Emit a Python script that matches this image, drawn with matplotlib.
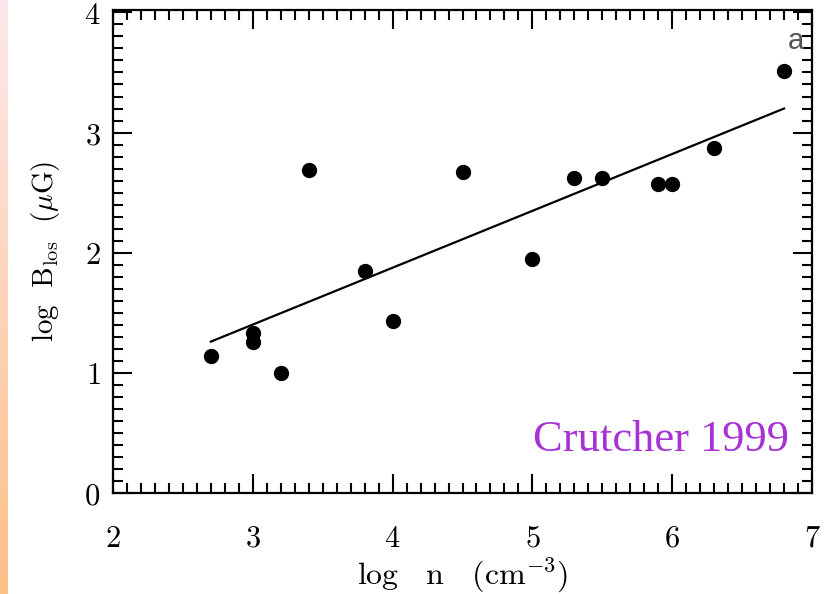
import numpy as np
import matplotlib.pyplot as plt
from matplotlib.ticker import MultipleLocator, FixedFormatter

plt.rcParams['mathtext.fontset'] = 'cm'

# Crutcher 1999 data
log_n = [2.7, 3.0, 3.0, 3.2, 3.4, 3.8, 4.0, 4.5, 5.0, 5.3, 5.5, 5.9, 6.0, 6.3, 6.8]
log_b = [1.14, 1.33, 1.26, 1.0, 2.69, 1.85, 1.43, 2.67, 1.95, 2.62, 2.62, 2.57, 2.57, 2.87, 3.51]

# fitted line endpoints
fit_x = [2.7, 6.8]
fit_y = [1.26, 3.20]

x_ticks = [2, 3, 4, 5, 6, 7]
y_ticks = [0, 1, 2, 3, 4]

fig = plt.figure(figsize=(8.36, 5.94), dpi=100)

# thin gradient strip on the left edge
strip = fig.add_axes([0, 0, 8 / 836, 1])
grad = np.linspace(0, 1, 256).reshape(-1, 1)
top = np.array([253, 232, 236]) / 255
bottom = np.array([253, 192, 135]) / 255
img = top[None, None, :] * (1 - grad[:, :, None]) + bottom[None, None, :] * grad[:, :, None]
strip.imshow(img, aspect='auto')
strip.axis('off')

ax = fig.add_axes([113 / 836, 1 - 493 / 594, 699 / 836, 483 / 594])
ax.plot(log_n, log_b, 'o', color='black', ms=10, zorder=3)
ax.plot(fit_x, fit_y, color='black', lw=1.6)

ax.set_xlim(2, 7)
ax.set_ylim(0, 4.02)
ax.xaxis.set_minor_locator(MultipleLocator(0.1))
ax.yaxis.set_minor_locator(MultipleLocator(0.1))
ax.set_xticks(x_ticks)
ax.set_yticks(y_ticks)
ax.xaxis.set_major_formatter(FixedFormatter(['$%d$' % v for v in x_ticks]))
ax.yaxis.set_major_formatter(FixedFormatter(['$%d$' % v for v in y_ticks]))

ax.tick_params(which='both', direction='in', top=True, right=True, width=1.5, labelsize=22)
ax.tick_params(which='major', length=14)
ax.tick_params(which='minor', length=7)
ax.tick_params(axis='x', which='major', pad=22)
ax.tick_params(axis='y', which='major', pad=9)
for s in ax.spines.values():
    s.set_linewidth(1.6)

ax.set_xlabel(r'$\mathrm{log\quad n\quad (cm^{-3})}$', fontsize=23, labelpad=2)
ax.set_ylabel(r'$\mathrm{log\ \ B_{los}\ \ (}\mu\mathrm{G)}$', fontsize=21, labelpad=16)

ax.text(0.988, 0.935, 'a', transform=ax.transAxes, ha='right', va='center',
        fontsize=21, color='#555555', family='Liberation Sans')
ax.text(0.967, 0.11, 'Crutcher 1999', transform=ax.transAxes, ha='right', va='center',
        fontsize=32, color='#A733D6', family='Liberation Serif')

fig.savefig('out.png', dpi=100)
